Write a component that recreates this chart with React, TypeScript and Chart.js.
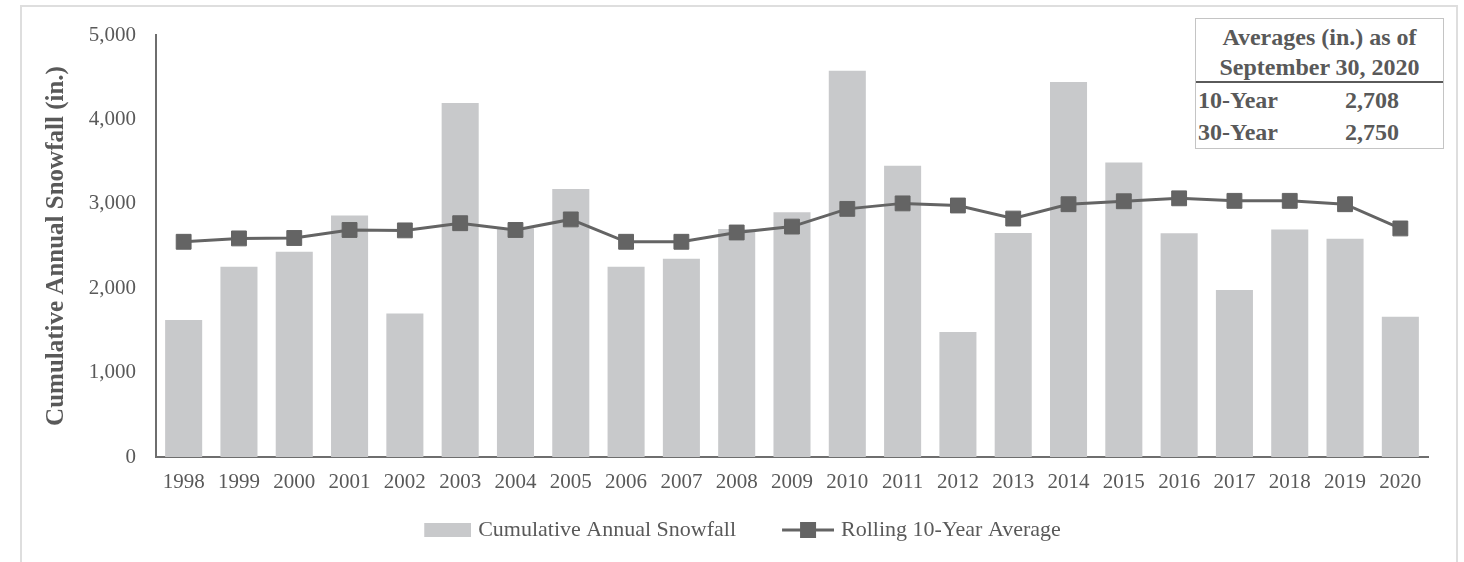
import React, { useEffect, useRef } from 'react';
import { Chart, registerables } from 'chart.js';

Chart.register(...registerables);

const years = ['1998', '1999', '2000', '2001', '2002', '2003', '2004', '2005', '2006', '2007', '2008', '2009', '2010', '2011', '2012', '2013', '2014', '2015', '2016', '2017', '2018', '2019', '2020'];
const snowfall = [1623, 2255, 2433, 2860, 1700, 4195, 2710, 3175, 2255, 2350, 2700, 2900, 4577, 3450, 1480, 2655, 4443, 3490, 2650, 1980, 2695, 2585, 1662];
const rollingAvg = [2550, 2590, 2595, 2690, 2685, 2770, 2690, 2815, 2550, 2550, 2660, 2730, 2940, 3005, 2980, 2825, 2995, 3030, 3065, 3035, 3035, 2995, 2708];
const seriesNames = ['Cumulative Annual Snowfall', 'Rolling 10-Year Average'];
const yAxisTitle = 'Cumulative Annual Snowfall (in.)';
const yMax = 5000;
const yStep = 1000;
const tableHeader = ['Averages (in.) as of', 'September 30, 2020'];
const tableRows = [
  ['10-Year', '2,708'],
  ['30-Year', '2,750'],
];

const FONT = "'Liberation Serif', 'Times New Roman', serif";
const TEXT = '#595959';
const BAR = '#c8c9cb';
const LINE = '#646464';
const AXIS = '#6e6e6e';
const BOXW = 84;

function barSwatch(): HTMLCanvasElement {
  const c = document.createElement('canvas');
  c.width = BOXW + 8;
  c.height = 16;
  const ctx = c.getContext('2d')!;
  ctx.fillStyle = BAR;
  ctx.fillRect(BOXW + 8 - 47, 1, 47, 14);
  return c;
}

function lineSwatch(): HTMLCanvasElement {
  const c = document.createElement('canvas');
  c.width = BOXW + 8;
  c.height = 16;
  const ctx = c.getContext('2d')!;
  const x0 = BOXW + 8 - 52;
  ctx.strokeStyle = LINE;
  ctx.lineWidth = 3;
  ctx.beginPath();
  ctx.moveTo(x0, 8);
  ctx.lineTo(x0 + 52, 8);
  ctx.stroke();
  ctx.fillStyle = LINE;
  ctx.fillRect(x0 + 18, 0, 16, 16);
  return c;
}

export default function App() {
  const ref = useRef<HTMLCanvasElement | null>(null);

  useEffect(() => {
    if (!ref.current) return;
    const swatches = [barSwatch(), lineSwatch()];
    const chart = new Chart(ref.current, {
      type: 'bar',
      data: {
        labels: years,
        datasets: [
          {
            type: 'bar',
            label: seriesNames[0],
            data: snowfall,
            backgroundColor: BAR,
            borderWidth: 0,
            barPercentage: 0.67,
            categoryPercentage: 1,
            order: 1,
          } as any,
          {
            type: 'line',
            label: seriesNames[1],
            data: rollingAvg,
            borderColor: LINE,
            backgroundColor: LINE,
            borderWidth: 3,
            tension: 0,
            pointStyle: 'rect',
            pointRadius: 10.5,
            pointBorderWidth: 1,
            pointBackgroundColor: LINE,
            pointBorderColor: LINE,
            order: 0,
          } as any,
        ],
      },
      options: {
        animation: false,
        responsive: false,
        layout: { padding: { left: 16, right: 36, top: 35, bottom: 11 } },
        plugins: {
          tooltip: { enabled: false },
          legend: {
            position: 'bottom',
            labels: {
              usePointStyle: true,
              pointStyleWidth: BOXW,
              padding: 10,
              color: TEXT,
              font: { family: FONT, size: 22 },
              generateLabels: () =>
                seriesNames.map((name, i) => ({
                  text: name,
                  pointStyle: swatches[i],
                  fillStyle: 'transparent',
                  strokeStyle: 'transparent',
                  lineWidth: 0,
                  hidden: false,
                  datasetIndex: i,
                  fontColor: TEXT,
                })) as any,
            },
          },
        },
        scales: {
          x: {
            grid: { display: false, drawTicks: false },
            border: { display: true, color: AXIS, width: 2 },
            ticks: {
              color: TEXT,
              font: { family: FONT, size: 21 },
              padding: 13,
              maxRotation: 0,
              autoSkip: false,
            },
            afterFit: (s: any) => {
              s.height = 52;
            },
          },
          y: {
            min: 0,
            max: yMax,
            grid: { display: false, drawTicks: false },
            border: { display: true, color: AXIS, width: 2 },
            ticks: {
              stepSize: yStep,
              color: TEXT,
              font: { family: FONT, size: 21 },
              padding: 20,
              callback: (v: any) => Number(v).toLocaleString('en-US'),
            },
            title: {
              display: true,
              text: yAxisTitle,
              color: TEXT,
              font: { family: FONT, size: 25, weight: 'bold' },
              padding: { top: 26, bottom: 0 },
            },
            afterFit: (s: any) => {
              s.width = 140;
            },
          },
        },
      },
    });
    return () => chart.destroy();
  }, []);

  const cell: React.CSSProperties = {
    position: 'absolute',
    fontFamily: FONT,
    fontWeight: 'bold',
    fontSize: 24,
    color: TEXT,
    whiteSpace: 'nowrap',
    lineHeight: '30px',
  };

  return (
    <div style={{ position: 'fixed', left: 0, top: 0, width: 1464, height: 562, background: '#fff', overflow: 'hidden' }}>
      <div
        style={{
          position: 'absolute',
          left: 20,
          top: 5,
          width: 1434,
          height: 600,
          borderLeft: '2px solid #dedede',
          borderTop: '2px solid #dedede',
          borderRight: '2px solid #dedede',
        }}
      />
      <canvas ref={ref} width={1464} height={562} style={{ position: 'absolute', left: 0, top: 0, display: 'block' }} />
      <div
        style={{
          position: 'absolute',
          left: 1195,
          top: 18,
          width: 249,
          height: 131,
          border: '1.5px solid #c4c4c4',
          background: '#fff',
          boxSizing: 'border-box',
        }}
      >
        <div style={{ ...cell, left: 0, width: '100%', textAlign: 'center', top: 3 }}>{tableHeader[0]}</div>
        <div style={{ ...cell, left: 0, width: '100%', textAlign: 'center', top: 33 }}>{tableHeader[1]}</div>
        <div style={{ position: 'absolute', left: 0, right: 0, top: 62, height: 2, background: '#5a5a5a' }} />
        <div style={{ ...cell, left: 2, top: 66 }}>{tableRows[0][0]}</div>
        <div style={{ ...cell, left: 149, top: 66 }}>{tableRows[0][1]}</div>
        <div style={{ ...cell, left: 2, top: 98 }}>{tableRows[1][0]}</div>
        <div style={{ ...cell, left: 149, top: 98 }}>{tableRows[1][1]}</div>
      </div>
    </div>
  );
}
